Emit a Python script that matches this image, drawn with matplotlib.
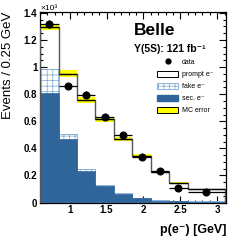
import matplotlib
matplotlib.use("Agg")
import matplotlib.pyplot as plt
import numpy as np
from matplotlib.patches import Patch
from matplotlib.lines import Line2D
from matplotlib.ticker import MultipleLocator

plt.rcParams["font.family"] = ["Liberation Sans", "DejaVu Sans"]
plt.rcParams["hatch.linewidth"] = 0.5

# momentum bins [GeV], values in units of 10^3 events
edges = [0.6, 0.85, 1.1, 1.35, 1.6, 1.85, 2.1, 2.35, 2.6, 3.1]
data = [1.315, 0.86, 0.795, 0.63, 0.50, 0.335, 0.235, 0.11, 0.08]
data_err = [0.03, 0.025, 0.025, 0.02, 0.018, 0.015, 0.013, 0.01, 0.008]
mc_total = [1.295, 0.952, 0.757, 0.615, 0.47, 0.345, 0.225, 0.145, 0.098]
mc_err = [0.018, 0.026, 0.021, 0.017, 0.012, 0.01, 0.008, 0.006, 0.005]
fake_top = [0.983, 0.503, 0.248, 0.131, 0.07, 0.037, 0.016, 0.01, 0.008]
sec = [0.806, 0.466, 0.232, 0.12, 0.065, 0.035, 0.013, 0.008, 0.006]

edges = np.asarray(edges)
left = edges[:-1]
width = np.diff(edges)
centers = left + width / 2

sec_col = "#30659a"
fake_col = "#7aa6d4"

fig = plt.figure(figsize=(2.49, 2.42), dpi=100)
ax = fig.add_axes([0.161, 0.163, 0.747, 0.787])

# prompt e- (white), drawn as full total
ax.bar(left, mc_total, width=width, align="edge", color="white", edgecolor="none", zorder=1)
# yellow MC error band
ax.bar(left, 2 * np.asarray(mc_err), bottom=np.asarray(mc_total) - np.asarray(mc_err),
       width=width, align="edge", color="#ffff00", edgecolor="none", zorder=2)
# fake e- hatched
ax.bar(left, fake_top, width=width, align="edge", color="white", edgecolor=fake_col,
       hatch="+++", linewidth=0.6, zorder=3)
# secondary e-
ax.bar(left, sec, width=width, align="edge", color=sec_col, edgecolor=sec_col,
       linewidth=0.5, zorder=4)
# MC outline
ax.stairs(mc_total, edges, color="#555555", linewidth=1.0, zorder=5)
ax.hlines(mc_total, left, edges[1:], color="black", linewidth=0.9, zorder=5)

# data
ax.errorbar(centers, data, xerr=width / 2, yerr=data_err, fmt="o", color="black",
            ms=4.8, elinewidth=0.9, capsize=0, zorder=6)

ax.set_xlim(0.6, 3.12)
ax.set_ylim(0, 1.406)
ax.xaxis.set_major_locator(MultipleLocator(0.5))
ax.xaxis.set_minor_locator(MultipleLocator(0.1))
ax.yaxis.set_major_locator(MultipleLocator(0.2))
ax.yaxis.set_minor_locator(MultipleLocator(0.05))
ax.tick_params(which="both", direction="in", top=True, right=True, width=0.8)
ax.tick_params(which="major", length=5, labelsize=7, pad=2)
ax.tick_params(which="minor", length=2.5)
ax.set_xticks([1, 1.5, 2, 2.5, 3])
ax.set_xticklabels(["1", "1.5", "2", "2.5", "3"], fontweight="bold")
ax.set_yticks([0, 0.2, 0.4, 0.6, 0.8, 1.0, 1.2, 1.4])
ax.set_yticklabels(["0", "0.2", "0.4", "0.6", "0.8", "1", "1.2", "1.4"], fontweight="bold")
for s in ax.spines.values():
    s.set_linewidth(0.9)

ax.set_ylabel("Events / 0.25 GeV", fontsize=9.5, loc="top")
ax.yaxis.set_label_coords(-0.14, 1.0)
fig.text(0.908, 0.025, "p(e\u207b) [GeV]", ha="right", va="bottom",
         fontsize=9, fontweight="bold")
fig.text(0.161, 0.95, "\u00d710\u00b3", ha="left", va="bottom", fontsize=6)

ax.text(0.505, 0.945, "Belle", transform=ax.transAxes, fontsize=12.5,
        fontweight="bold", va="top")
ax.text(0.505, 0.83, "Y(5S): 121 fb\u207b\u00b9", transform=ax.transAxes, fontsize=7.5,
        fontweight="bold", va="top")

handles = [
    Line2D([], [], marker="o", ls="none", color="black", ms=3.5),
    Patch(facecolor="white", edgecolor="black", linewidth=0.7),
    Patch(facecolor="white", edgecolor=fake_col, hatch="+++", linewidth=0.6),
    Patch(facecolor=sec_col, edgecolor=sec_col),
    Patch(facecolor="#ffff00", edgecolor="black", linewidth=0.7),
]
labels = ["data", "prompt e\u207b", "fake e\u207b", "sec. e\u207b", "MC error"]
leg = ax.legend(handles, labels, loc="upper left", bbox_to_anchor=(0.615, 0.77),
                frameon=False, fontsize=5, handlelength=3.0, handleheight=1.0,
                labelspacing=0.65, handletextpad=0.5, borderaxespad=0)

fig.savefig("out.png", dpi=100)
